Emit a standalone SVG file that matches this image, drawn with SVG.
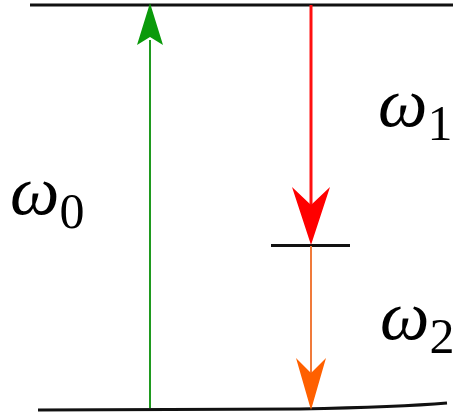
<svg xmlns="http://www.w3.org/2000/svg" width="453" height="416" viewBox="0 0 453 416">
<style>
.lvl{stroke:#111;stroke-width:3;fill:none}
.lbl{font-family:"Liberation Serif","DejaVu Serif",serif;font-style:italic;font-size:70px;fill:#000}
.sub{font-style:normal;font-size:50px}
</style>
<rect width="453" height="416" fill="#fff"/>
<g id="levels">
<line id="top" class="lvl" x1="30" y1="5" x2="453" y2="5"/>
<line id="mid" class="lvl" x1="271" y1="245.5" x2="350" y2="245.5" stroke-width="2"/>
<path id="bottom" class="lvl" d="M38,410 L300,409 Q400,407 447,403"/>
</g>
<g id="connectors">
<line x1="150" y1="408" x2="150" y2="40" stroke="#1f9a1f" stroke-width="2"/>
<polygon points="150,3 137,45 150,37 163,45" fill="#0a9a0a"/>
<line x1="311" y1="5" x2="311" y2="206" stroke="#ff1010" stroke-width="3"/>
<polygon points="311,245 292,187 311,205 330,187" fill="#ff0000"/>
<line x1="311" y1="246" x2="311" y2="375" stroke="#f07a3a" stroke-width="2"/>
<polygon points="311,410 296,358 311,373 326,358" fill="#ff6000"/>
</g>
<g id="label-w0"><text class="lbl" x="10" y="214">ω<tspan class="sub" dy="14">0</tspan></text></g>
<g id="label-w1"><text class="lbl" x="378" y="126">ω<tspan class="sub" dy="14">1</tspan></text></g>
<g id="label-w2"><text class="lbl" x="380" y="339">ω<tspan class="sub" dy="14">2</tspan></text></g>
</svg>
